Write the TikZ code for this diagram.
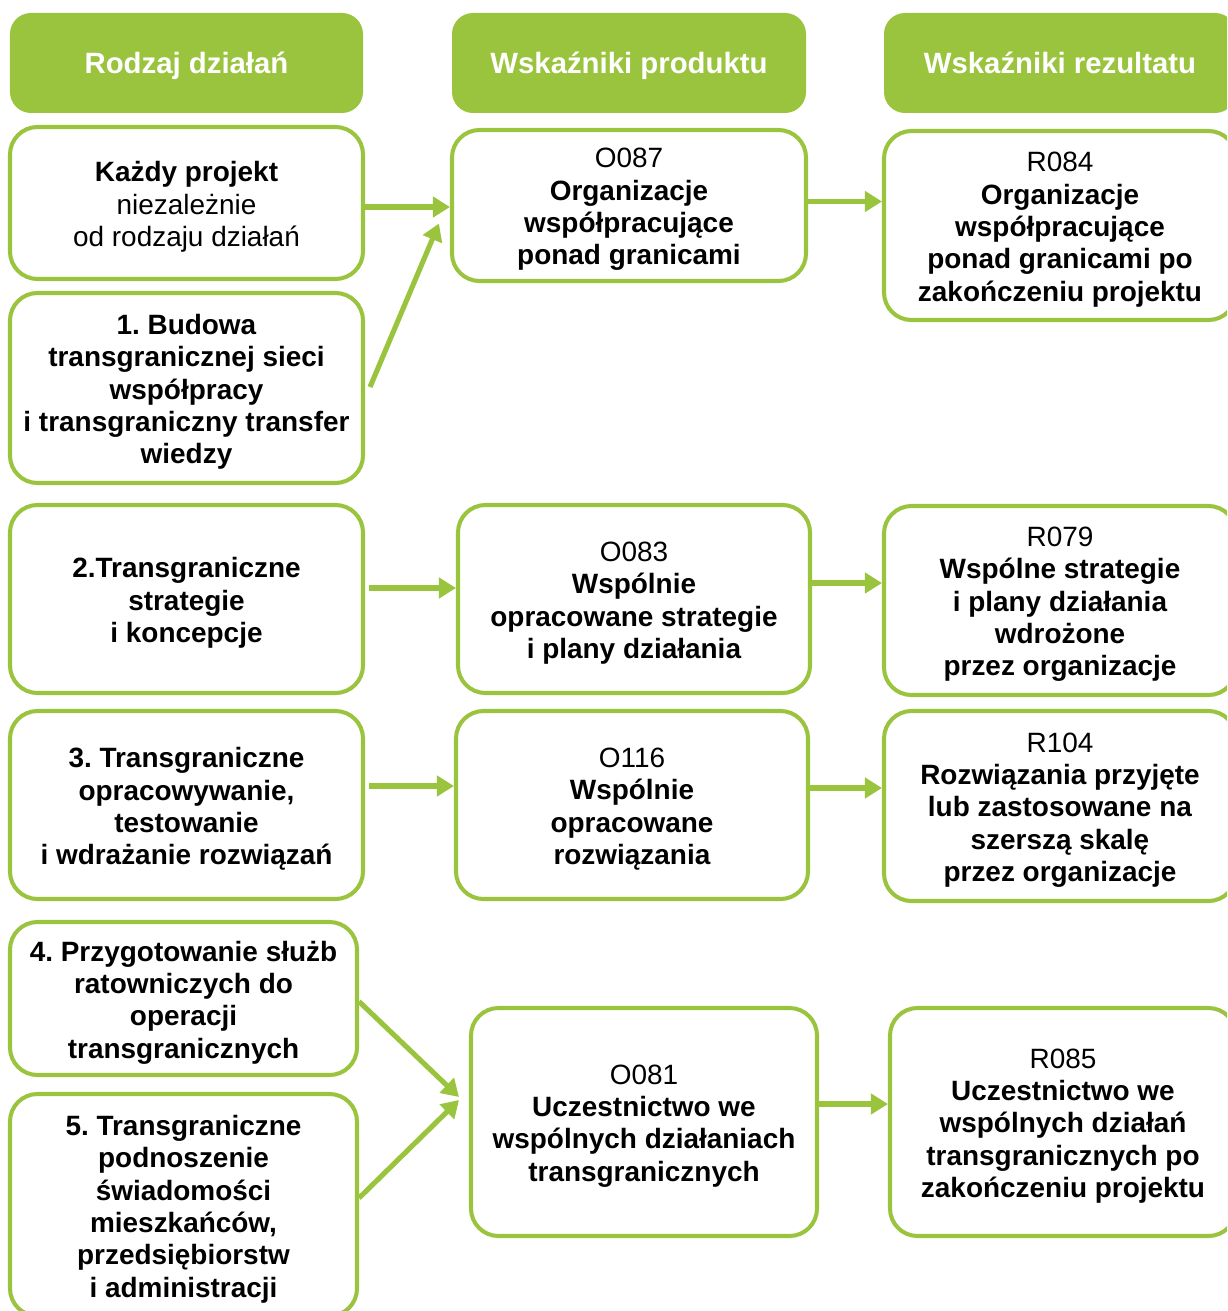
\documentclass[tikz,border=0pt]{standalone}
\usepackage{fontspec}
\setmainfont{Liberation Sans}
\usetikzlibrary{arrows.meta,calc}
\definecolor{leaf}{RGB}{154,196,62}
\frenchspacing

\tikzset{
  cell/.style={draw=leaf, line width=2.3pt, rounded corners=0.55cm, fill=white,
    align=center, inner sep=2pt, font=\fontsize{15.9}{18.4}\selectfont},
  head/.style={fill=leaf, rounded corners=0.42cm, align=center, text=white,
    inner sep=2pt, font=\fontsize{16.7}{19}\selectfont\bfseries},
  bare/.style={draw=none, fill=none, minimum width=0pt, minimum height=0pt},
  link/.style={draw=leaf, line width=2.9pt, -{Triangle[length=0.34cm,width=0.4cm]}},
}

% style, name, x1, y1, x2, y2, text: a frame and its text, centred a little low
\newcommand\placebox[7]{%
  \pgfmathsetmacro\bw{(#5-#3)*0.02}%
  \pgfmathsetmacro\bh{(#6-#4)*0.02}%
  \node[#1, minimum width=\bw cm, minimum height=\bh cm] (#2) at ({(#3+#5)/2},{(#4+#6)/2}) {};%
  \node[#1, bare] (#2-t) at ($(#2.center)+(0,4)$) {#7};%
}

\begin{document}
\begin{tikzpicture}[x=0.02cm, y=-0.02cm]
\clip (0,0) rectangle (1227,1311);
\fill[white] (0,0) rectangle (1227,1311);

% column headers
\placebox{head}{h1}{10}{13}{363}{113}{\strut Rodzaj działań}
\placebox{head}{h2}{452}{13}{806}{113}{\strut Wskaźniki produktu}
\placebox{head}{h3}{884}{13}{1236}{113}{\strut Wskaźniki rezultatu}

% kinds of actions
\placebox{cell}{k0}{10}{127}{363}{279}{\textbf{Każdy projekt}\\niezależnie\\od rodzaju działań}
\placebox{cell}{k1}{10}{293}{363}{483}{\textbf{1. Budowa}\\\textbf{transgranicznej sieci}\\\textbf{współpracy}\\\textbf{i transgraniczny transfer}\\\textbf{wiedzy}}
\placebox{cell}{k2}{10}{505}{363}{693}{\textbf{2.Transgraniczne}\\\textbf{strategie}\\\textbf{i koncepcje}}
\placebox{cell}{k3}{10}{711}{363}{899}{\textbf{3. Transgraniczne}\\\textbf{opracowywanie,}\\\textbf{testowanie}\\\textbf{i wdrażanie rozwiązań}}
\placebox{cell}{k4}{10}{922}{357}{1075}{\textbf{4. Przygotowanie służb}\\\textbf{ratowniczych do}\\\textbf{operacji}\\\textbf{transgranicznych}}
\placebox{cell}{k5}{10}{1094}{357}{1316}{\textbf{5. Transgraniczne}\\\textbf{podnoszenie}\\\textbf{świadomości}\\\textbf{mieszkańców,}\\\textbf{przedsiębiorstw}\\\textbf{i administracji}}

% output indicators
\placebox{cell}{o087}{452}{130}{806}{281}{O087\\\textbf{Organizacje}\\\textbf{współpracujące}\\\textbf{ponad granicami}}
\placebox{cell}{o083}{458}{505}{810}{693}{O083\\\textbf{Wspólnie}\\\textbf{opracowane strategie}\\\textbf{i plany działania}}
\placebox{cell}{o116}{456}{711}{808}{899}{O116\\\textbf{Wspólnie}\\\textbf{opracowane}\\\textbf{rozwiązania}}
\placebox{cell}{o081}{471}{1008}{817}{1236}{O081\\\textbf{Uczestnictwo we}\\\textbf{wspólnych działaniach}\\\textbf{transgranicznych}}

% result indicators
\placebox{cell}{r084}{884}{131}{1236}{320}{R084\\\textbf{Organizacje}\\\textbf{współpracujące}\\\textbf{ponad granicami po}\\\textbf{zakończeniu projektu}}
\placebox{cell}{r079}{884}{506}{1236}{695}{R079\\\textbf{Wspólne strategie}\\\textbf{i plany działania}\\\textbf{wdrożone}\\\textbf{przez organizacje}}
\placebox{cell}{r104}{884}{711}{1236}{901}{R104\\\textbf{Rozwiązania przyjęte}\\\textbf{lub zastosowane na}\\\textbf{szerszą skalę}\\\textbf{przez organizacje}}
\placebox{cell}{r085}{890}{1008}{1236}{1236}{R085\\\textbf{Uczestnictwo we}\\\textbf{wspólnych działań}\\\textbf{transgranicznych po}\\\textbf{zakończeniu projektu}}

% connectors: actions -> outputs
\draw[link] ($(k0.east)+(0,4)$) coordinate (a0) -- (a0 -| o087.west);
\draw[link] ($(k1.east)+(5,-1)$) -- ($(o087.west)+(-11,18)$);
\draw[link] ($(k2.east)+(4,-11)$) coordinate (a2) -- (a2 -| o083.west);
\draw[link] ($(k3.east)+(4,-19)$) coordinate (a3) -- (a3 -| o116.west);
\draw[link] ($(k4.east)+(0,3)$) -- ($(o081.west)+(-10,-25)$);
\draw[link] ($(k5.east)+(0,-7)$) -- ($(o081.west)+(-10,-22)$);

% connectors: outputs -> results
\draw[link] ($(o087.east)+(0,-4)$) coordinate (b0) -- (b0 -| r084.west);
\draw[link] ($(o083.east)+(0,-16)$) coordinate (b2) -- (b2 -| r079.west);
\draw[link] ($(o116.east)+(0,-17)$) coordinate (b3) -- (b3 -| r104.west);
\draw[link] ($(o081.east)+(0,-18)$) coordinate (b4) -- (b4 -| r085.west);
\end{tikzpicture}
\end{document}
